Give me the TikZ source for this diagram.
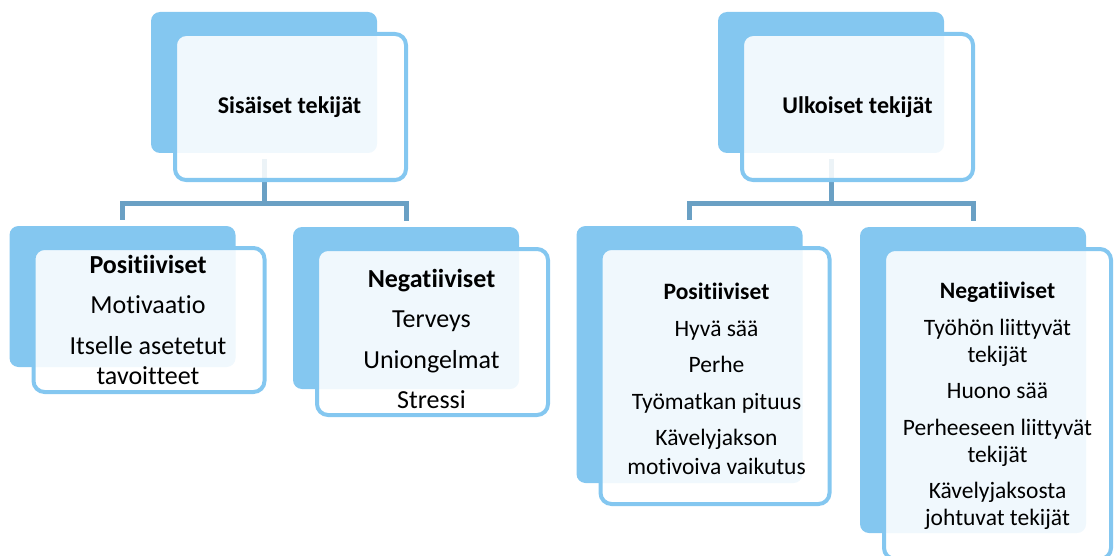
\documentclass[tikz,border=0pt]{standalone}
\usepackage{fontspec}
\setmainfont[Ligatures={NoCommon,NoContextual}]{Carlito}
\usetikzlibrary{positioning}
\definecolor{skyfill}{RGB}{132,199,240}
\definecolor{linkblue}{RGB}{106,160,196}

\begin{document}
\begin{tikzpicture}[x=1pt, y=-1pt,
    back/.style={rectangle, rounded corners=9pt, fill=skyfill, minimum width=226pt, inner sep=0pt, outer sep=0pt},
    front/.style={rectangle, rounded corners=11pt, draw=skyfill, line width=4pt, fill=white, fill opacity=.88, minimum width=231pt, inner sep=0pt, outer sep=0pt, anchor=north west},
    link/.style={draw=linkblue, line width=5pt},
    headtext/.style={align=center, font=\fontsize{24}{29}\selectfont\bfseries},
    lefttext/.style={align=center, font=\fontsize{26}{30.5}\selectfont},
    righttext/.style={align=center, font=\fontsize{23.5}{28.5}\selectfont}]
  \useasboundingbox (0,0) rectangle (1115,556);

  % back boxes
  \node[back, minimum height=141pt] (sisB)  at (264,82.5)    {};
  \node[back, minimum height=141pt] (ulkB)  at (831,82.5)    {};
  \node[back, minimum height=141pt] (posLB) at (122.5,296.5) {};
  \node[back, minimum height=162pt] (negLB) at (406,308)     {};
  \node[back, minimum height=257pt] (posRB) at (689.5,354.5) {};
  \node[back, minimum height=306pt] (negRB) at (973,380)     {};

  % connectors
  \draw[link] ([yshift=-6pt]sisB.south) -- ++(0,44) coordinate (sisJ)
    -| ([yshift=6pt]posLB.north) (sisJ) -| ([yshift=6pt]negLB.north);
  \draw[link] ([yshift=-6pt]ulkB.south) -- ++(0,44) coordinate (ulkJ)
    -| ([yshift=6pt]posRB.north) (ulkJ) -| ([yshift=6pt]negRB.north);

  % front boxes
  \node[front, minimum height=146pt] (sisF)  at ([shift={(24,22)}]sisB.north west)  {};
  \node[front, minimum height=146pt] (ulkF)  at ([shift={(24,22)}]ulkB.north west)  {};
  \node[front, minimum height=144pt] (posLF) at ([shift={(24,22)}]posLB.north west) {};
  \node[front, minimum height=166pt] (negLF) at ([shift={(24,22)}]negLB.north west) {};
  \node[front, minimum height=256pt, minimum width=229pt] (posRF) at ([shift={(24,22)}]posRB.north west) {};
  \node[front, minimum height=310pt, minimum width=227pt] (negRF) at ([shift={(24,22)}]negRB.north west) {};

  % texts
  \node[headtext] (sisT) at ([xshift=-1pt]sisF) {Sisäiset tekijät};
  \node[headtext] (ulkT) at (ulkF) {Ulkoiset tekijät};
  \node[lefttext] (posLT) at ([xshift=-1pt]posLF)
    {\textbf{Positiiviset}\\[10pt] Motivaatio\\[10pt] Itselle asetetut\\ tavoitteet};
  \node[lefttext] (negLT) at ([shift={(-1pt,-7pt)}]negLF)
    {\textbf{Negatiiviset}\\[10pt] Terveys\\[10pt] Uniongelmat\\[10pt] Stressi};
  \node[righttext] (posRT) at ([shift={(1.5pt,-3pt)}]posRF)
    {\textbf{Positiiviset}\\[8pt] Hyvä sää\\[8pt] Perhe\\[8pt] Työmatkan pituus\\[8pt] Kävelyjakson\\ motivoiva vaikutus};
  \node[righttext, font=\fontsize{23.5}{27}\selectfont] (negRT) at ([yshift=-2pt]negRF)
    {\textbf{Negatiiviset}\\[9.5pt] Työhön liittyvät\\ tekijät\\[9.5pt] Huono sää\\[9.5pt] Perheeseen liittyvät\\ tekijät\\[9.5pt] Kävelyjaksosta\\ johtuvat tekijät};
\end{tikzpicture}
\end{document}
